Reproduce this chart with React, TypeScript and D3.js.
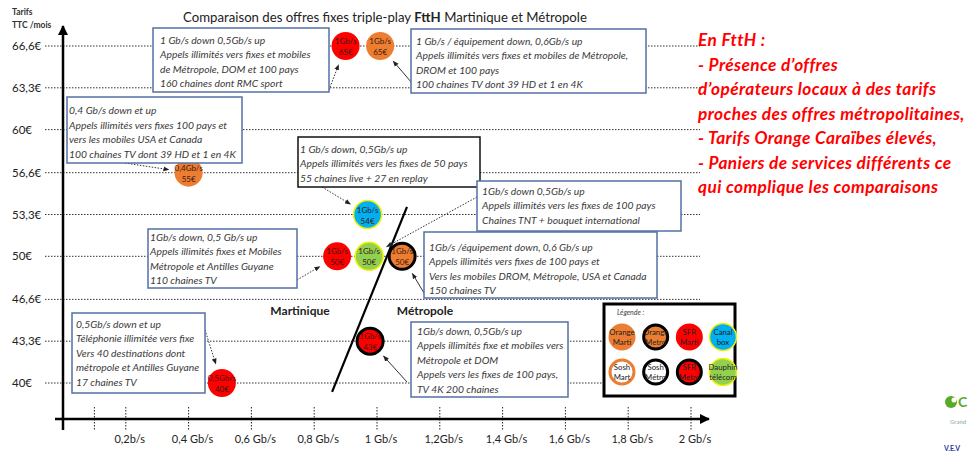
import React from 'react'
import * as d3 from 'd3'

// axe des tarifs (TTC / mois)
const tarifTicks = [40, 43.3, 46.6, 50, 53.3, 56.6, 60, 63.3, 66.6]
const tarifLabels = ['40€', '43,3€', '46,6€', '50€', '53,3€', '56,6€', '60€', '63,3€', '66,6€']

// axe des débits
const debitTicks = [0.1, 0.2, 0.4, 0.6, 0.8, 1, 1.2, 1.4, 1.6, 1.8, 2]
const debitLabels = ['', '0,2b/s', '0,4 Gb/s', '0,6 Gb/s', '0,8 Gb/s', '1 Gb/s', '1,2Gb/s', '1,4 Gb/s', '1,6 Gb/s', '1,8 Gb/s', '2 Gb/s']

// offres
const operateurs = ['SFR Marti', 'Orange Marti', 'Orange Marti', 'Canal box', 'SFR Marti', 'Dauphin télécom', 'Orange Metro', 'SFR Metro', 'SFR Marti']
const debits = [0.9, 1.01, 0.4, 0.97, 0.873, 0.975, 1.08, 0.978, 0.506]
const niveaux = [66.6, 66.6, 56.6, 53.3, 50, 50, 50, 43.3, 40]
const debitTxt = ['1Gb/s', '1Gb/s', '0,4Gb/s', '1Gb/s', '1Gb/s', '1Gb/s', '1Gb/s', '1Gb/s', '0,5Gb/s']
const prixTxt = ['65€', '65€', '55€', '54€', '50€', '50€', '50€', '43€', '40€']

const descriptions = [
  ['1 Gb/s down 0,5Gb/s up', 'Appels illimités vers fixes et mobiles', 'de Métropole, DOM et 100 pays', '160 chaines dont RMC sport'],
  ['1 Gb/s / équipement down, 0,6Gb/s up', 'Appels illimités vers fixes et mobiles de Métropole,', 'DROM et  100 pays', '100 chaines TV dont 39 HD et 1 en 4K'],
  ['0,4 Gb/s down et up', 'Appels illimités vers fixes 100 pays et', 'vers les mobiles USA et Canada', '100 chaines TV dont 39 HD et 1 en 4K'],
  ['1 Gb/s down, 0,5Gb/s up', 'Appels illimités vers les fixes de 50 pays', '55 chaines live + 27 en replay'],
  ['1Gb/s down, 0,5 Gb/s up', 'Appels illimités fixes et Mobiles', 'Métropole et Antilles Guyane', '110 chaines TV'],
  ['1Gb/s down 0,5Gb/s up', 'Appels illimités vers les fixes de 100 pays', 'Chaines TNT + bouquet international'],
  ['1Gb/s /équipement down, 0,6 Gb/s up', 'Appels illimités vers fixes de 100 pays et', 'Vers les mobiles DROM, Métropole, USA et Canada', '150 chaines TV'],
  ['1Gb/s down, 0,5Gb/s up', 'Appels illimités fixe et mobiles vers', 'Métropole et DOM', 'Appels vers les fixes de 100 pays,', 'TV  4K 200 chaines'],
  ['0,5Gb/s down et up', 'Téléphonie illimitée vers fixe', 'Vers 40 destinations dont', 'métropole et Antilles Guyane', '17 chaines TV'],
]

// légende
const legendeOps = ['Orange Marti', 'Orange Metro', 'SFR Marti', 'Canal box', 'Sosh Mart', 'Sosh Métro', 'SFR Metro', 'Dauphin télécom']
const legendeTxt = [['Orange', 'Marti'], ['Orange', 'Metro'], ['SFR', 'Marti'], ['Canal', 'box'], ['Sosh', 'Mart'], ['Sosh', 'Métro'], ['SFR', 'Metro'], ['Dauphin', 'télécom']]

const commentaire = ['En FttH :', '- Présence d\u2019offres', 'd\u2019opérateurs locaux à des tarifs', 'proches des offres métropolitaines,', '- Tarifs Orange Caraïbes élevés,', '- Paniers de services différents ce', 'qui complique les comparaisons']

// séparation Martinique / Métropole (en Gb/s, €)
const separation = [[1.0955, 53.9], [0.857, 39.3]]

// styles
const ORANGE = '#ed7d31', ROUGE = '#ff0000', BLEU = '#00b0f0', VERT = '#92d050', JAUNE = '#f5f000'
const styles = {
  'Orange Marti': { fill: ORANGE, stroke: 'none', sw: 0 },
  'Orange Metro': { fill: ORANGE, stroke: '#000', sw: 3 },
  'SFR Marti': { fill: ROUGE, stroke: 'none', sw: 0 },
  'SFR Metro': { fill: ROUGE, stroke: '#000', sw: 3 },
  'Canal box': { fill: BLEU, stroke: JAUNE, sw: 1.5 },
  'Dauphin télécom': { fill: VERT, stroke: JAUNE, sw: 1.5 },
  'Sosh Mart': { fill: '#fff', stroke: ORANGE, sw: 3 },
  'Sosh Métro': { fill: '#fff', stroke: '#000', sw: 3 },
}

// cadres des descriptions (même ordre que les offres)
const BOXBLUE = '#5470a6'
const cadres = [
  { x: 153, y: 28, w: 176, h: 64, tx: 7, ty: 15.5, from: [329, 90], dash: true, stroke: BOXBLUE },
  { x: 411, y: 29, w: 235, h: 64, tx: 5, ty: 15.5, from: [412, 83], dash: false, stroke: BOXBLUE },
  { x: 67, y: 97, w: 175, h: 66, tx: 2, ty: 17, from: [125, 163], dash: true, stroke: BOXBLUE },
  { x: 298, y: 137, w: 182, h: 50, tx: 2, ty: 15.5, from: [322, 187], dash: true, stroke: '#111' },
  { x: 148, y: 229, w: 149, h: 59, tx: 2, ty: 11.5, from: [297, 280], dash: true, stroke: BOXBLUE },
  { x: 477, y: 181, w: 204, h: 50, tx: 5, ty: 13.5, from: [477, 197], dash: true, stroke: BOXBLUE },
  { x: 424, y: 232, w: 233, h: 66, tx: 5, ty: 18.5, from: [424, 293], dash: false, stroke: BOXBLUE },
  { x: 411, y: 322, w: 157, h: 75, tx: 6, ty: 12.5, from: [407, 382], dash: false, stroke: BOXBLUE },
  { x: 72, y: 313, w: 133, h: 80, tx: 4, ty: 14.5, from: [205, 330], dash: true, stroke: BOXBLUE },
]

const FONT = 'Lato, "Open Sans", sans-serif'

export default function App() {
  const x = d3.scaleLinear().domain([0, 2]).range([63, 691])
  const y = d3.scaleLinear().domain([40, 66.6]).range([383, 46])
  const r = 14
  const axeY = 419

  const bulles = operateurs.map((op, i) => ({ op, cx: x(debits[i]), cy: y(niveaux[i]), i }))

  const fleche = (i: number) => {
    const c = cadres[i]
    const b = bulles[i]
    const dx = c.from[0] - b.cx, dy = c.from[1] - b.cy
    const d = Math.hypot(dx, dy)
    const k = (r + 6) / d
    return { x1: c.from[0], y1: c.from[1], x2: b.cx + dx * k, y2: b.cy + dy * k }
  }

  const legX = d3.scalePoint().domain(['0', '1', '2', '3']).range([622, 723])
  const legY = d3.scalePoint().domain(['0', '1']).range([337, 372])

  return (
    <svg width={968} height={457} style={{ display: 'block', position: 'absolute', left: 0, top: 0, background: '#fff' }} fontFamily={FONT}>
      <defs>
        <marker id="pointe" viewBox="0 0 10 10" refX="9" refY="5" markerWidth="6" markerHeight="6" orient="auto">
          <path d="M0,1 L10,5 L0,9 z" fill="#222" />
        </marker>
        <marker id="axe" viewBox="0 0 10 10" refX="9" refY="5" markerWidth="4" markerHeight="4" orient="auto">
          <path d="M0,0 L10,5 L0,10 z" fill="#000" />
        </marker>
      </defs>

      <text x={385} y={22} textAnchor="middle" fontSize={13.2} fill="#222">
        Comparaison des offres fixes triple-play <tspan fontWeight="bold">FttH</tspan> Martinique et Métropole
      </text>

      <text x={12} y={15} fontSize={8.5} fontWeight="bold" fill="#333">Tarifs</text>
      <text x={12} y={28} fontSize={8.5} fontWeight="bold" fill="#333">TTC /mois</text>

      {/* grille horizontale */}
      {tarifTicks.map((t, i) => (
        <g key={'gy' + i}>
          <line x1={45} x2={700} y1={y(t)} y2={y(t)} stroke="#333" strokeWidth={1} strokeDasharray="1.5,1.5" />
          <text x={12} y={y(t) + 4} fontSize={11.5} fill="#222">{tarifLabels[i]}</text>
        </g>
      ))}

      {/* graduations de l'axe des débits */}
      {debitTicks.map((t, i) => (
        <g key={'gx' + i}>
          <line x1={x(t)} x2={x(t)} y1={axeY - 12} y2={axeY + 11} stroke="#222" strokeWidth={1} strokeDasharray="1.5,1.5" />
          <text x={x(t) + 4} y={axeY + 24} textAnchor="middle" fontSize={11} fill="#222">{debitLabels[i]}</text>
        </g>
      ))}

      {/* axes */}
      <line x1={x(0)} x2={x(0)} y1={axeY + 11} y2={26} stroke="#000" strokeWidth={2.5} markerEnd="url(#axe)" />
      <line x1={55} x2={709} y1={axeY} y2={axeY} stroke="#000" strokeWidth={2.5} markerEnd="url(#axe)" />

      {/* séparation */}
      <line x1={x(separation[0][0])} y1={y(separation[0][1])} x2={x(separation[1][0])} y2={y(separation[1][1])} stroke="#000" strokeWidth={2.2} />
      <text x={300} y={315} textAnchor="middle" fontSize={12} fontWeight="bold" fill="#222">Martinique</text>
      <text x={425} y={315} textAnchor="middle" fontSize={12} fontWeight="bold" fill="#222">Métropole</text>

      {/* bulles */}
      {bulles.map((b) => {
        const s = styles[b.op]
        return (
          <g key={'b' + b.i}>
            <circle cx={b.cx} cy={b.cy} r={s.sw > 2 ? r - 1 : r} fill={s.fill} stroke={s.stroke} strokeWidth={s.sw} />
            <text x={b.cx} y={b.cy - 2} textAnchor="middle" fontSize={8} fill="#3a1a10">{debitTxt[b.i]}</text>
            <text x={b.cx} y={b.cy + 9} textAnchor="middle" fontSize={8} fill="#3a1a10">{prixTxt[b.i]}</text>
          </g>
        )
      })}

      {/* cadres descriptifs */}
      {cadres.map((c, i) => {
        const f = fleche(i)
        return (
          <g key={'c' + i}>
            <line {...f} stroke="#333" strokeWidth={1} strokeDasharray={c.dash ? '1.5,1.5' : undefined} markerEnd="url(#pointe)" />
            <rect x={c.x} y={c.y} width={c.w} height={c.h} fill="#fff" stroke={c.stroke} strokeWidth={1.5} />
            {descriptions[i].map((l, j) => (
              <text key={j} x={c.x + c.tx} y={c.y + c.ty + j * 14.6} fontSize={10.3} fontStyle="italic" fill="#3a3a3a">{l}</text>
            ))}
          </g>
        )
      })}

      {/* légende */}
      <rect x={604} y={304} width={131} height={92} fill="#fff" stroke="#000" strokeWidth={3} />
      <text x={617} y={315} fontSize={7} fontStyle="italic" fill="#444">Légende :</text>
      {legendeOps.map((op, i) => {
        const s = styles[op]
        const cx = legX(String(i % 4))!
        const cy = legY(String(Math.floor(i / 4)))!
        return (
          <g key={'l' + i}>
            <circle cx={cx} cy={cy} r={s.sw > 2 ? 12 : 13.5} fill={s.fill} stroke={s.stroke} strokeWidth={s.sw} />
            <text x={cx} y={cy - 2} textAnchor="middle" fontSize={7.8} fill="#222">{legendeTxt[i][0]}</text>
            <text x={cx} y={cy + 8} textAnchor="middle" fontSize={7.8} fill="#222">{legendeTxt[i][1]}</text>
          </g>
        )
      })}

      {/* commentaire */}
      {commentaire.map((l, i) => (
        <text key={'t' + i} x={698} y={46 + i * 24.5} fontSize={17.3} letterSpacing={0.4} fontWeight="bold" fontStyle="italic" fill="#ff0000">{l}</text>
      ))}

      {/* logo */}
      <circle cx={951} cy={402} r={6} fill="#5aaa2a" />
      <circle cx={954} cy={400} r={2.5} fill="#fff" />
      <text x={958} y={407} fontSize={14} fontWeight="bold" fill="#5aaa2a">C</text>
      <text x={950} y={424} fontSize={6} fill="#8aa">Grand</text>
      <text x={944} y={451} fontSize={7} fontWeight="bold" fill="#2a3a9a">V.E.V</text>
    </svg>
  )
}
